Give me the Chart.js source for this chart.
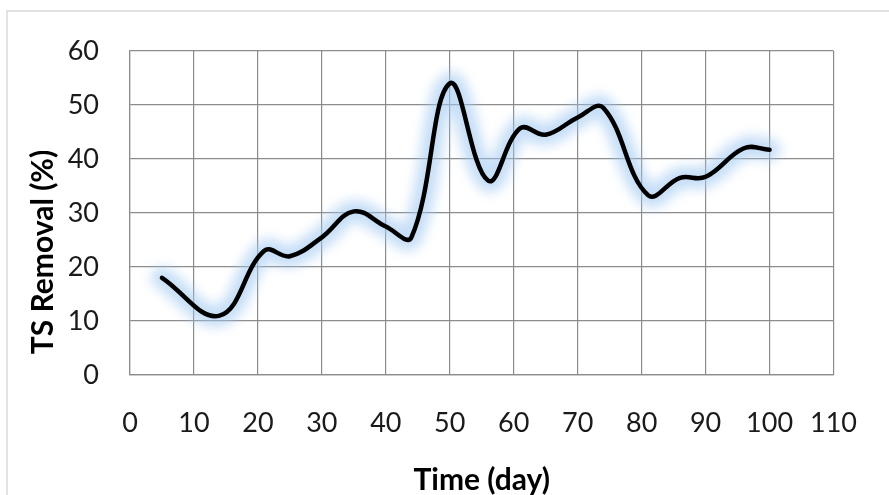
<!DOCTYPE html>
<html>
<head>
<meta charset="utf-8">
<script src="https://cdn.jsdelivr.net/npm/chart.js@4.4.0/dist/chart.umd.min.js"></script>
<style>
  html, body { margin: 0; padding: 0; background: #ffffff; }
  #wrap { width: 889px; height: 495px; position: relative; }
</style>
</head>
<body>
<div id="wrap"><canvas id="c" width="889" height="495"></canvas></div>
<script>
const days = [5, 14, 21, 25, 30, 35, 40, 44, 50, 56, 61, 65, 70, 74, 81, 86, 90, 96, 100];
const removal = [18, 11, 23, 22, 25.5, 30.3, 27.5, 25.5, 54, 36, 45.7, 44.5, 47.7, 49.5, 33.3, 36.5, 36.7, 42, 41.7];
const xTicks = [0, 10, 20, 30, 40, 50, 60, 70, 80, 90, 100, 110];
const yTicks = [0, 10, 20, 30, 40, 50, 60];
const xTitle = 'Time (day)';
const yTitle = 'TS Removal (%)';

const points = days.map((d, i) => ({ x: d, y: removal[i] }));

const framePlugin = {
  id: 'frame',
  beforeDraw(chart) {
    const ctx = chart.ctx;
    ctx.save();
    ctx.fillStyle = '#ffffff';
    ctx.fillRect(0, 0, chart.width, chart.height);
    ctx.strokeStyle = '#d9d9d9';
    ctx.lineWidth = 1.5;
    ctx.beginPath();
    ctx.moveTo(7, chart.height);
    ctx.lineTo(7, 11);
    ctx.lineTo(chart.width, 11);
    ctx.stroke();
    ctx.restore();
  },
  afterDraw(chart) {
    const ctx = chart.ctx;
    const y = chart.scales.y;
    ctx.save();
    ctx.translate(53, y.getPixelForValue(0) - 123);
    ctx.rotate(-Math.PI / 2);
    ctx.font = 'bold 30px Lato';
    ctx.fillStyle = '#000000';
    ctx.textAlign = 'center';
    ctx.textBaseline = 'alphabetic';
    ctx.fillText(yTitle, 0, 0);
    ctx.restore();
  }
};

const glowPlugin = {
  id: 'glow',
  beforeDatasetDraw(chart, args) {
    if (args.index !== 0) return;
    const ctx = chart.ctx;
    ctx.save();
    ctx.filter = 'blur(6px)';
  },
  afterDatasetDraw(chart, args) {
    if (args.index !== 0) return;
    chart.ctx.restore();
  }
};

const tickFont = { family: 'Lato', size: 27 };

new Chart(document.getElementById('c'), {
  type: 'scatter',
  data: {
    datasets: [{
      data: points,
      showLine: true,
      borderColor: 'rgba(160,200,242,0.6)',
      borderWidth: 22,
      borderCapStyle: 'round',
      borderJoinStyle: 'round',
      tension: 0.4,
      pointRadius: 0,
      pointHoverRadius: 0,
      fill: false,
      order: 2
    }, {
      data: points,
      showLine: true,
      borderColor: '#000000',
      borderWidth: 4.5,
      borderCapStyle: 'round',
      borderJoinStyle: 'round',
      tension: 0.4,
      pointRadius: 0,
      pointHoverRadius: 0,
      fill: false,
      order: 1
    }]
  },
  options: {
    responsive: false,
    animation: false,
    devicePixelRatio: 1,
    layout: { padding: { top: 51, right: 53, left: 0, bottom: 0 } },
    plugins: { legend: { display: false }, tooltip: { enabled: false } },
    scales: {
      x: {
        type: 'linear',
        min: 0, max: 110,
        afterBuildTicks(scale) { scale.ticks = xTicks.map(v => ({ value: v })); },
        afterFit(scale) { scale.height = 120; },
        grid: { color: '#8c8c8c', lineWidth: 1.2, drawTicks: false },
        border: { color: '#8c8c8c', width: 1.2 },
        ticks: { font: tickFont, color: '#1a1a1a', padding: 32, maxRotation: 0, autoSkip: false },
        title: { display: true, text: xTitle, font: { family: 'Lato', size: 30, weight: 'bold', lineHeight: 1 }, color: '#000000', padding: { top: 0, bottom: 0 } }
      },
      y: {
        type: 'linear',
        min: 0, max: 60,
        afterBuildTicks(scale) { scale.ticks = yTicks.map(v => ({ value: v })); },
        afterFit(scale) { scale.width = 130; },
        grid: { color: '#8c8c8c', lineWidth: 1.2, drawTicks: false },
        border: { color: '#8c8c8c', width: 1.2 },
        ticks: { font: tickFont, color: '#1a1a1a', padding: 31, autoSkip: false },
        title: { display: false }
      }
    }
  },
  plugins: [framePlugin, glowPlugin]
});
</script>
</body>
</html>
